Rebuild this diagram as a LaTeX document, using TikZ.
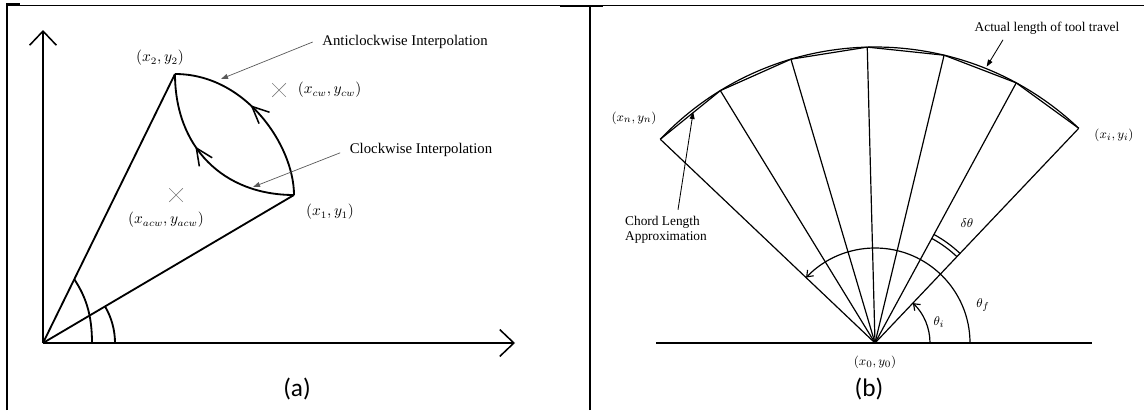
\documentclass[tikz,border=0pt]{standalone}
\usepackage{fontspec}
\setmainfont{Liberation Serif}
\newfontfamily\capfont{Carlito}
\usetikzlibrary{arrows.meta,calc,positioning,shapes.misc,decorations.markings}

\begin{document}
\begin{tikzpicture}[
  x=0.025cm, y=0.025cm,
  frame/.style={line width=1.4pt},
  ray/.style={line width=1.3pt},
  axis/.style={ray, -{Straight Barb[length=10pt,width=19pt,line width=1.1pt]}},
  fan/.style={line width=0.85pt},
  note/.style={draw=gray!70!black, line width=0.5pt,
               -{Triangle[length=5pt,width=3.5pt]}},
  notek/.style={note, draw=black, line width=0.6pt},
  xmark/.style={cross out, draw=gray, line width=0.5pt,
                minimum size=3.2mm, inner sep=0pt},
  lbl/.style={font=\fontsize{10.5}{12}\selectfont, inner sep=1pt},
  lblb/.style={font=\fontsize{9.5}{11}\selectfont, inner sep=1pt},
  captxt/.style={font=\capfont\fontsize{18}{20}\selectfont, inner sep=0pt},
  midbarb/.style={postaction={decorate}, decoration={markings,
    mark=at position #1 with
      {\arrow{Straight Barb[length=12pt,width=11pt,line width=1.1pt]}}}},
  endbarb/.style={-{Straight Barb[length=4pt,width=6pt,line width=0.8pt]}}
]
  \useasboundingbox (0,0) rectangle (1144,410);

  % table frame
  \draw[line width=0.6pt] (7,405) -- (1144,405);
  \draw[frame] (7,0) -- (7,406) -- (20,406);
  \draw[frame] (560,404) -- (603,404);
  \draw[frame] (590,0) -- (590,404);

  % ---- (a) ----
  \coordinate (o) at (43,67);
  \coordinate (ytip) at (43,380);
  \coordinate (xtip) at (515,67);
  \coordinate (p1) at (294,215);
  \coordinate (p2) at (175,336);

  \draw[axis] (o) -- (ytip);
  \draw[axis] (o) -- (xtip);
  \draw[ray] (o) -- (p2);
  \draw[ray] (o) -- (p1);

  \draw[ray, midbarb=0.55] (p1) .. controls (294,264) and (246,336) .. (p2);
  \draw[ray, midbarb=0.6] (p1) .. controls (223,215) and (175,263) .. (p2);

  \draw[ray] ($(o)!0.237!(p2)$) .. controls (86,113) and (92,95) .. ($(o)+(49,0)$);
  \draw[ray] ($(o)+(30.5:72)$) arc[start angle=30.5, end angle=0, radius=72];

  \node[xmark] (acw) at (176,215) {};
  \node[xmark] (cw) at (279,320) {};
  \node[lbl, right=2.6mm of cw] (cwlbl) {$(x_{cw}, y_{cw})$};
  \node[lbl] (acwlbl) at (166,190) {$(x_{acw}, y_{acw})$};
  \node[lbl] (p2lbl) at (160,352) {$(x_2, y_2)$};
  \node[lbl] (p1lbl) at (330,198) {$(x_1, y_1)$};

  \node[lbl] (acwtxt) at (405,368) {Anticlockwise Interpolation};
  \node[lbl] (cwtxt) at (421,260) {Clockwise Interpolation};
  \coordinate (acwtip) at (221,331);
  \coordinate (cwtip) at (253,223);
  \draw[note] ([xshift=-2mm]acwtxt.west) -- (acwtip);
  \draw[note] ([xshift=-2mm,yshift=-0.7mm]cwtxt.west) -- (cwtip);

  \node[captxt] (capa) at (297,21) {(a)};

  % ---- (b) ----
  \coordinate (c) at (875,67);
  \coordinate (bl) at (656,67);
  \coordinate (br) at (1092,67);
  \draw[line width=1.1pt] (bl) -- (br);

  \foreach \k in {0,...,6} {
    \coordinate (f\k) at ($(c)+(46.5+15*\k:296)$);
    \draw[fan] (c) -- (f\k);
  }
  \foreach \k [evaluate=\k as \j using int(\k+1)] in {0,...,5}
    \draw[fan] (f\k) -- (f\j);
  \draw[fan] (f0) arc[start angle=46.5, end angle=136.5, radius=296];

  \draw[fan, endbarb] ($(c)+(0:95)$) arc[start angle=0, end angle=136.5, radius=95];
  \draw[fan, endbarb] ($(c)+(0:55)$) arc[start angle=0, end angle=46.5, radius=55];
  \draw[fan] ($(c)+(46.5:119)$) arc[start angle=46.5, end angle=61.5, radius=119];
  \draw[fan] ($(c)+(46.5:123.5)$) arc[start angle=46.5, end angle=61.5, radius=123.5];

  \node[lblb] (thf) at (983,105) {$\theta_f$};
  \node[lblb] (thi) at (939,88) {$\theta_i$};
  \node[lblb] (dth) at (967,187) {$\delta\theta$};
  \node[lblb] (clbl) at (875,48) {$(x_0, y_0)$};
  \node[lblb] (filbl) at (1114,275) {$(x_i, y_i)$};
  \node[lblb] (fnlbl) at (634,292) {$(x_n, y_n)$};

  \node[lblb] (acttxt) at (1047,382) {Actual length of tool travel};
  \node[lblb, align=left] (chordtxt) at (666,180) {Chord Length\\Approximation};
  \coordinate (acttip) at ($(c)+(68:298)$);
  \coordinate (chordtip) at ($(c)+(128.2:294)$);
  \draw[notek] ([xshift=-11mm,yshift=-1mm]acttxt.south) -- (acttip);
  \draw[notek] ([xshift=3mm,yshift=1.2mm]chordtxt.north) -- (chordtip);

  \node[captxt] (capb) at (869,21) {(b)};
\end{tikzpicture}
\end{document}
